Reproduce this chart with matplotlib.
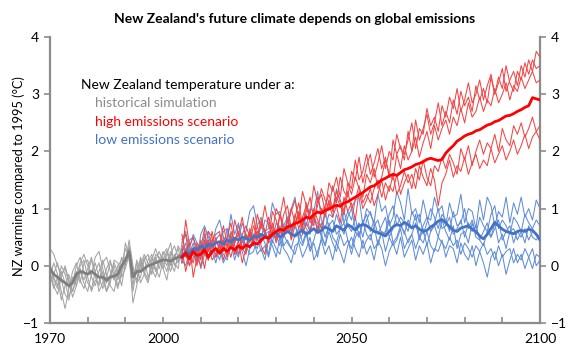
import numpy as np
import matplotlib
matplotlib.use('Agg')
import matplotlib.pyplot as plt

plt.rcParams['font.family'] = ['Lato', 'DejaVu Sans']

# years
hist_years = list(range(1970, 2006))
future_years = list(range(2005, 2101))

# historical simulation, thin members
hist_members = [
    [0.3, 0.2, 0.0, -0.15, -0.05, -0.3, -0.45, -0.2, 0.05, 0.2, 0.0, -0.15, 0.15, 0.25, -0.05, -0.3, -0.15, 0.05,
     -0.1, -0.35, 0.05, 0.3, -0.1, -0.25, 0.0, 0.2, 0.05, -0.15, 0.1, 0.25, 0.05, -0.1, 0.2, 0.35, 0.15, 0.3],
    [-0.1, -0.35, -0.5, -0.2, 0.0, -0.25, -0.55, -0.35, -0.1, -0.3, -0.45, -0.15, 0.05, -0.2, -0.4, -0.2, 0.05, -0.1,
     -0.35, -0.15, 0.4, 0.15, -0.45, -0.05, 0.1, -0.15, -0.3, 0.0, 0.15, -0.05, 0.2, 0.3, 0.05, -0.1, 0.2, 0.1],
    [-0.2, 0.05, -0.15, -0.45, -0.75, -0.4, -0.1, 0.05, -0.25, -0.4, -0.15, 0.1, -0.1, -0.45, -0.3, -0.05, 0.1, -0.2,
     -0.4, -0.1, 0.05, 0.45, 0.0, -0.3, -0.2, 0.1, 0.2, -0.05, -0.2, 0.05, 0.25, 0.1, -0.1, 0.15, 0.3, 0.05],
    [0.05, -0.25, -0.4, -0.1, -0.3, -0.55, -0.3, 0.0, 0.15, -0.1, -0.3, -0.4, -0.1, 0.05, -0.25, -0.45, -0.3, 0.1,
     0.05, -0.2, -0.05, 0.2, -0.65, -0.35, 0.05, -0.1, -0.25, 0.1, 0.3, 0.1, -0.05, -0.25, 0.15, 0.1, 0.35, 0.2],
    [-0.3, -0.15, 0.05, -0.25, -0.5, -0.6, -0.25, -0.1, -0.3, 0.05, 0.1, -0.2, -0.35, -0.1, 0.1, -0.15, -0.35, -0.45,
     -0.15, 0.15, 0.0, 0.35, -0.2, 0.05, -0.3, -0.15, 0.1, 0.2, -0.05, -0.2, 0.1, 0.25, 0.0, 0.2, 0.05, 0.3],
    [0.0, -0.2, -0.35, 0.0, -0.15, -0.4, -0.2, -0.35, 0.0, 0.1, -0.2, -0.45, -0.25, -0.3, 0.05, 0.15, -0.1, -0.25,
     0.0, 0.1, 0.15, 0.1, -0.35, 0.1, -0.1, 0.15, -0.2, -0.1, 0.2, 0.15, -0.05, 0.2, 0.4, 0.0, 0.1, 0.25],
    [-0.15, -0.4, -0.2, -0.6, -0.35, -0.15, -0.45, -0.25, -0.05, -0.25, -0.05, 0.15, -0.2, -0.35, -0.1, -0.45, -0.2, 0.0,
     -0.25, 0.0, 0.3, 0.15, -0.15, -0.25, 0.15, -0.05, 0.0, 0.15, -0.1, 0.1, 0.15, 0.0, 0.25, 0.05, -0.05, 0.4],
]
hist_mean = [-0.05, -0.15, -0.2, -0.25, -0.3, -0.35, -0.3, -0.15, -0.1, -0.12,
             -0.15, -0.1, -0.15, -0.2, -0.2, -0.25, -0.2, -0.18, -0.15, 0.0,
             0.1, 0.25, -0.2, -0.1, -0.1, -0.05, 0.0, 0.02, 0.05, 0.08,
             0.1, 0.1, 0.08, 0.12, 0.15, 0.18]

# high emissions scenario
high_members = [
    [0.4, 0.55, 0.1, 0.25, 0.0, 0.45, 0.2, 0.6, 0.5, 0.15,
     0.35, 0.7, 0.4, 0.3, 0.8, 0.55, 0.85, 0.45, 0.6, 0.4,
     0.9, 0.65, 1.05, 0.7, 0.55, 1.0, 0.85, 1.2, 0.75, 0.95,
     1.15, 0.8, 1.3, 1.05, 0.9, 1.4, 1.1, 1.25, 0.95, 1.45,
     1.3, 1.55, 1.2, 1.7, 1.45, 1.35, 1.85, 1.5, 1.65, 1.95,
     1.6, 1.8, 2.05, 1.7, 1.9, 1.55, 2.2, 1.95, 2.1, 1.85,
     2.35, 2.0, 2.55, 2.2, 2.4, 2.65, 2.3, 2.5, 2.85, 2.45,
     2.7, 2.5, 2.9, 2.65, 3.05, 2.8, 2.95, 2.7, 3.15, 2.9,
     3.1, 2.85, 3.3, 3.0, 3.2, 3.45, 3.05, 3.25, 3.4, 3.15,
     3.5, 3.3, 3.6, 3.4, 3.75, 3.65],
    [0.15, 0.8, 0.35, 0.5, 0.2, 0.3, 0.65, 0.1, 0.45, 0.55,
     0.6, 0.25, 0.5, 0.75, 0.35, 0.2, 0.55, 0.7, 0.5, 0.85,
     0.45, 0.75, 0.6, 0.4, 0.95, 0.8, 0.55, 0.9, 1.05, 0.65,
     0.85, 1.1, 0.7, 0.95, 1.2, 0.8, 1.05, 1.35, 1.15, 1.0,
     1.4, 1.1, 1.55, 1.3, 1.2, 1.65, 1.5, 1.9, 1.45, 1.75,
     1.95, 1.55, 1.8, 2.1, 1.7, 2.0, 1.85, 2.3, 2.05, 1.95,
     2.2, 2.5, 2.05, 2.4, 2.3, 2.75, 2.45, 2.6, 2.35, 2.8,
     2.6, 2.95, 2.75, 3.1, 2.7, 2.9, 3.2, 2.85, 3.0, 3.25,
     2.9, 3.15, 3.35, 3.0, 3.3, 3.1, 3.5, 3.2, 3.05, 3.4,
     3.25, 3.55, 3.35, 3.6, 3.45, 3.5],
    [0.3, -0.1, 0.2, 0.05, 0.4, 0.3, -0.05, 0.35, 0.2, 0.5,
     0.25, 0.45, 0.15, 0.6, 0.4, 0.55, 0.3, 0.2, 0.65, 0.45,
     0.7, 0.4, 0.55, 0.85, 0.6, 0.45, 0.9, 0.7, 0.6, 1.0,
     0.75, 0.95, 0.65, 1.1, 0.85, 0.7, 1.2, 0.95, 1.05, 1.25,
     1.0, 1.3, 1.15, 0.95, 1.45, 1.25, 1.55, 1.35, 1.2, 1.6,
     1.45, 1.7, 1.35, 1.55, 1.85, 1.6, 1.5, 1.95, 1.7, 2.1,
     1.85, 2.0, 2.25, 1.9, 2.15, 2.35, 2.05, 2.45, 2.2, 2.4,
     2.55, 2.3, 2.6, 2.45, 2.75, 2.5, 2.85, 2.6, 2.7, 2.95,
     2.7, 2.9, 2.8, 3.1, 2.85, 3.0, 3.2, 2.9, 3.15, 3.05,
     3.3, 3.1, 3.25, 3.4, 3.2, 3.25],
    [0.05, 0.25, 0.4, -0.2, 0.15, 0.0, 0.3, 0.45, 0.1, 0.2,
     0.4, 0.1, 0.35, 0.5, 0.2, 0.45, 0.05, 0.3, 0.55, 0.35,
     0.6, 0.35, 0.2, 0.55, 0.7, 0.4, 0.65, 0.5, 0.8, 0.45,
     0.7, 0.9, 0.55, 0.75, 0.6, 1.0, 0.8, 0.65, 0.95, 1.1,
     0.85, 1.05, 0.75, 1.2, 0.95, 1.1, 0.8, 1.3, 1.0, 1.15,
     1.35, 1.05, 1.25, 1.5, 1.15, 1.4, 1.3, 1.6, 1.25, 1.45,
     1.6, 1.35, 1.7, 1.5, 1.85, 1.55, 1.4, 1.75, 1.65, 1.9,
     1.7, 1.95, 1.8, 1.6, 2.05, 1.85, 2.1, 1.75, 2.0, 2.2,
     1.95, 2.15, 2.05, 2.3, 2.0, 2.4, 2.2, 2.1, 2.45, 2.3,
     2.5, 2.25, 2.4, 2.6, 2.35, 2.45],
    [0.55, 0.2, 0.0, 0.3, 0.35, 0.1, 0.45, 0.25, 0.6, 0.3,
     0.2, 0.5, 0.35, 0.15, 0.45, 0.6, 0.3, 0.55, 0.4, 0.7,
     0.5, 0.8, 0.6, 0.45, 0.75, 0.55, 0.9, 0.6, 0.7, 0.5,
     0.9, 0.65, 0.85, 1.05, 0.75, 0.9, 0.6, 1.0, 0.85, 1.15,
     0.95, 1.2, 1.05, 0.9, 1.3, 1.0, 1.15, 1.4, 1.1, 1.25,
     1.1, 1.35, 1.5, 1.2, 1.45, 1.3, 1.6, 1.25, 1.4, 1.65,
     1.45, 1.6, 1.35, 1.75, 1.55, 1.4, 1.7, 1.5, 1.05, 1.45,
     1.6, 1.85, 1.55, 1.75, 1.65, 1.9, 1.6, 1.8, 1.95, 1.7,
     1.85, 1.75, 2.05, 1.8, 1.95, 2.1, 1.85, 2.0, 2.2, 1.95,
     2.1, 2.3, 2.05, 2.25, 2.35, 2.2],
]
high_mean = [0.15, 0.22, 0.12, 0.25, 0.18, 0.2, 0.28, 0.15, 0.25, 0.3,
             0.22, 0.3, 0.25, 0.32, 0.28, 0.35, 0.3, 0.36, 0.33, 0.4,
             0.38, 0.45, 0.5, 0.48, 0.55, 0.6, 0.64, 0.62, 0.68, 0.7,
             0.74, 0.76, 0.8, 0.85, 0.83, 0.9, 0.94, 0.92, 0.97, 0.99,
             1.03, 1.06, 1.04, 1.1, 1.12, 1.16, 1.2, 1.24, 1.28, 1.33,
             1.38, 1.4, 1.45, 1.5, 1.53, 1.57, 1.6, 1.58, 1.63, 1.68,
             1.7, 1.73, 1.77, 1.79, 1.82, 1.86, 1.88, 1.86, 1.84, 1.86,
             1.97, 2.04, 2.1, 2.18, 2.22, 2.27, 2.3, 2.32, 2.36, 2.38,
             2.42, 2.46, 2.48, 2.52, 2.54, 2.58, 2.62, 2.63, 2.66, 2.7,
             2.73, 2.77, 2.8, 2.94, 2.92, 2.9]

# low emissions scenario
low_members = [
    [0.45, 0.6, 0.25, 0.3, 0.1, 0.55, 0.7, 0.5, 0.35, 0.65,
     0.8, 0.5, 0.45, 0.9, 0.55, 0.75, 0.4, 0.6, 0.95, 1.05,
     0.7, 0.85, 0.6, 0.65, 1.1, 0.9, 0.95, 0.55, 0.8, 1.0,
     1.2, 0.75, 0.85, 0.7, 1.0, 0.95, 1.3, 0.8, 0.65, 0.9,
     0.85, 1.35, 1.1, 0.75, 0.95, 0.8, 1.15, 1.2, 0.7, 1.0,
     0.9, 0.75, 1.25, 0.95, 1.05, 0.7, 0.85, 1.3, 1.1, 0.8,
     1.35, 0.9, 1.0, 0.75, 1.15, 0.85, 0.8, 1.2, 0.95, 1.05,
     0.7, 1.1, 0.85, 0.9, 1.25, 0.75, 1.0, 0.95, 0.65, 1.15,
     0.8, 1.2, 1.05, 0.7, 0.95, 0.85, 1.2, 0.75, 1.1, 0.9,
     1.2, 0.85, 1.0, 0.8, 1.15, 1.0],
    [0.2, 0.15, 0.45, 0.5, 0.3, 0.2, 0.55, 0.25, 0.45, 0.4,
     0.35, 0.6, 0.65, 0.3, 0.5, 0.45, 0.75, 0.55, 0.3, 0.5,
     0.6, 0.45, 0.8, 0.75, 0.5, 0.55, 0.35, 0.7, 0.85, 0.6,
     0.75, 0.45, 0.55, 0.9, 0.6, 0.8, 0.75, 0.5, 0.95, 0.65,
     0.6, 0.9, 0.7, 0.55, 0.85, 1.0, 0.65, 0.75, 0.5, 0.8,
     0.95, 0.7, 0.8, 0.55, 0.6, 0.9, 1.05, 0.7, 0.85, 0.75,
     0.6, 0.95, 0.8, 0.9, 0.55, 0.75, 1.0, 0.85, 0.65, 0.9,
     0.8, 0.6, 0.95, 0.7, 0.75, 1.0, 0.65, 0.8, 0.55, 0.85,
     0.7, 0.6, 0.9, 1.05, 0.65, 0.8, 0.7, 0.55, 0.85, 0.75,
     0.6, 0.9, 0.75, 0.65, 0.8, 0.7],
    [0.05, 0.3, 0.2, 0.4, 0.1, 0.15, 0.35, 0.45, 0.2, 0.3,
     0.1, 0.4, 0.35, 0.55, 0.2, 0.3, 0.5, 0.25, 0.6, 0.4,
     0.3, 0.55, 0.4, 0.2, 0.6, 0.5, 0.7, 0.35, 0.45, 0.3,
     0.55, 0.65, 0.4, 0.6, 0.3, 0.45, 0.7, 0.55, 0.35, 0.75,
     0.5, 0.4, 0.65, 0.75, 0.45, 0.3, 0.6, 0.5, 0.8, 0.55,
     0.45, 0.7, 0.35, 0.6, 0.55, 0.8, 0.4, 0.5, 0.7, 0.6,
     0.4, 0.55, 0.75, 0.45, 0.65, 0.35, 0.6, 0.7, 0.5, 0.8,
     0.6, 0.45, 0.7, 0.3, 0.55, 0.6, 0.4, 0.75, 0.5, 0.45,
     0.35, 0.6, 0.5, 0.75, 0.4, 0.55, 0.3, 0.6, 0.65, 0.45,
     0.6, 0.4, 0.7, 0.5, 0.45, 0.55],
    [0.25, 0.4, 0.0, 0.15, 0.3, -0.05, 0.2, 0.1, 0.35, 0.15,
     0.3, 0.05, 0.2, 0.4, 0.1, 0.35, 0.25, 0.0, 0.3, 0.45,
     0.2, 0.3, 0.1, 0.45, 0.35, 0.15, 0.5, 0.3, 0.2, 0.05,
     0.35, 0.4, 0.15, 0.3, 0.5, 0.1, 0.25, 0.45, 0.2, 0.35,
     0.1, 0.4, 0.25, 0.05, 0.35, 0.5, 0.3, 0.15, 0.45, 0.2,
     0.35, 0.1, 0.45, 0.3, 0.0, 0.25, 0.4, 0.2, 0.5, 0.15,
     0.3, 0.45, 0.1, 0.35, 0.2, 0.4, 0.05, 0.3, 0.25, 0.45,
     0.15, 0.35, 0.3, 0.05, 0.4, 0.2, 0.1, 0.35, 0.0, 0.25,
     0.05, -0.2, 0.15, 0.25, 0.0, 0.2, -0.15, 0.1, 0.3, 0.05,
     0.2, -0.05, 0.15, 0.3, 0.0, 0.1],
    [0.35, 0.2, 0.3, 0.55, 0.4, 0.25, 0.5, 0.6, 0.3, 0.45,
     0.55, 0.3, 0.65, 0.45, 0.4, 0.7, 0.5, 0.35, 0.6, 0.55,
     0.45, 0.7, 0.55, 0.6, 0.4, 0.75, 0.65, 0.5, 0.85, 0.6,
     0.7, 0.5, 0.8, 0.65, 0.55, 0.9, 0.6, 0.75, 0.5, 0.7,
     0.8, 0.55, 0.65, 0.95, 0.7, 0.6, 0.85, 0.5, 0.75, 0.9,
     0.6, 0.8, 0.55, 0.7, 0.85, 0.5, 0.65, 0.9, 0.75, 0.55,
     0.8, 0.65, 0.9, 0.5, 0.7, 0.85, 0.6, 0.75, 1.0, 0.65,
     0.7, 0.85, 0.55, 0.65, 0.8, 0.5, 0.75, 0.6, 0.7, 0.45,
     0.6, 0.75, 0.5, 0.65, 0.8, 0.45, 0.6, 0.7, 0.4, 0.6,
     0.5, 0.65, 0.45, 0.6, 0.55, 0.5],
    [0.1, 0.0, 0.25, 0.3, 0.05, 0.2, 0.4, 0.15, 0.25, 0.05,
     0.35, 0.2, 0.1, 0.4, 0.3, 0.15, 0.45, 0.35, 0.2, 0.25,
     0.5, 0.25, 0.35, 0.15, 0.45, 0.3, 0.2, 0.55, 0.4, 0.3,
     0.2, 0.45, 0.35, 0.55, 0.25, 0.4, 0.15, 0.5, 0.35, 0.6,
     0.4, 0.25, 0.55, 0.35, 0.45, 0.2, 0.5, 0.6, 0.3, 0.45,
     0.55, 0.3, 0.4, 0.6, 0.25, 0.5, 0.35, 0.45, 0.65, 0.3,
     0.45, 0.55, 0.3, 0.5, 0.4, 0.6, 0.35, 0.25, 0.5, 0.4,
     0.3, 0.5, 0.35, 0.45, 0.2, 0.4, 0.3, 0.15, 0.35, 0.25,
     0.4, 0.2, 0.3, 0.1, 0.35, 0.15, 0.25, 0.3, 0.05, 0.2,
     0.1, 0.3, 0.15, -0.05, 0.2, 0.15],
]
low_mean = [0.15, 0.25, 0.2, 0.3, 0.28, 0.35, 0.3, 0.38, 0.35, 0.4,
            0.42, 0.38, 0.45, 0.42, 0.48, 0.45, 0.5, 0.48, 0.45, 0.52,
            0.5, 0.55, 0.52, 0.48, 0.55, 0.58, 0.5, 0.55, 0.6, 0.56,
            0.52, 0.58, 0.62, 0.55, 0.6, 0.65, 0.58, 0.62, 0.68, 0.64,
            0.6, 0.7, 0.66, 0.62, 0.72, 0.68, 0.62, 0.7, 0.72, 0.7,
            0.65, 0.6, 0.58, 0.55, 0.52, 0.6, 0.68, 0.72, 0.7, 0.76,
            0.72, 0.66, 0.7, 0.64, 0.6, 0.62, 0.68, 0.72, 0.78, 0.81,
            0.75, 0.68, 0.62, 0.6, 0.66, 0.68, 0.7, 0.64, 0.6, 0.52,
            0.47, 0.55, 0.65, 0.76, 0.7, 0.64, 0.6, 0.58, 0.56, 0.6,
            0.62, 0.6, 0.64, 0.62, 0.55, 0.45]

legend_title = 'New Zealand temperature under a:'
legend_items = ['historical simulation', 'high emissions scenario', 'low emissions scenario']

GREY_THIN, GREY = '#a3a3a3', '#7f7f7f'
RED_THIN, RED = '#f24545', '#ff0000'
BLUE_THIN, BLUE = '#5f8dd8', '#4472c4'
AXIS = '#8c8c8c'


def draw_members(ax, years, members, color, zorder):
    for m in members:
        ax.plot(years, m, color=color, lw=0.75, zorder=zorder)


fig = plt.figure(figsize=(5.76, 3.6), dpi=100)
ax = fig.add_axes([0.0868, 0.103, 0.8507, 0.794])

draw_members(ax, hist_years, hist_members, GREY_THIN, 2)
ax.plot(hist_years, hist_mean, color=GREY, lw=2.0, zorder=3)
draw_members(ax, future_years, low_members, BLUE_THIN, 4)
draw_members(ax, future_years, high_members, RED_THIN, 5)
ax.plot(future_years, low_mean, color=BLUE, lw=2.0, zorder=6)
ax.plot(future_years, high_mean, color=RED, lw=2.0, zorder=7)

ax.set_xlim(1970, 2100)
ax.set_ylim(-1, 4)

ax.spines['top'].set_visible(False)
for s in ['left', 'right', 'bottom']:
    ax.spines[s].set_color(AXIS)
    ax.spines[s].set_linewidth(1.6)

ax.set_xticks([1970, 2000, 2050, 2100])
ax.set_xticks(list(range(1980, 2100, 10)), minor=True)
ax.set_yticks([-1, 0, 1, 2, 3, 4])
ax.tick_params(axis='x', which='both', direction='in', length=4, width=1.2, color=AXIS,
               labelsize=10, pad=7)
ax.tick_params(axis='y', which='both', direction='out', length=4, width=1.2, color=AXIS,
               labelsize=10, right=True, labelright=True, pad=4)

ax.set_ylabel('NZ warming compared to 1995 (°C)', fontsize=9.2)
ax.yaxis.set_label_coords(-0.05, 0.515)
ax.set_title("New Zealand's future climate depends on global emissions", fontsize=10,
             fontweight='bold', pad=10)

# legend as coloured text
ax.text(0.063, 0.833, legend_title, transform=ax.transAxes, fontsize=10, color='black',
        va='center')
for i, (label, c) in enumerate(zip(legend_items, ['#8c8c8c', RED, BLUE])):
    ax.text(0.092, 0.768 - i * 0.064, label, transform=ax.transAxes, fontsize=10, color=c,
            va='center')

fig.savefig('out.png', dpi=100)
